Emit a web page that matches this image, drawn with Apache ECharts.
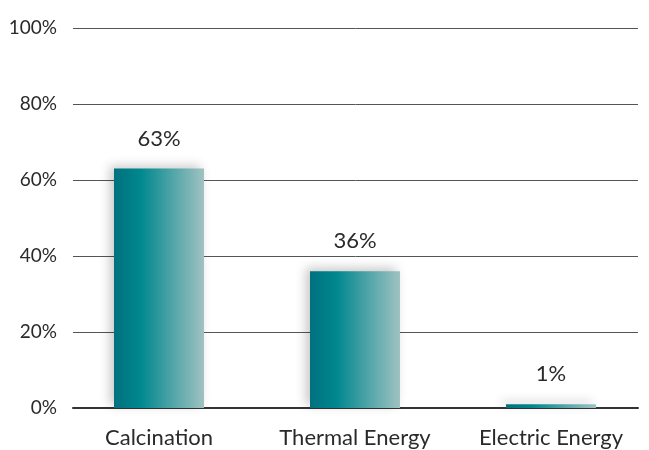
<!DOCTYPE html>
<html>
<head>
<meta charset="utf-8">
<script src="https://cdn.jsdelivr.net/npm/echarts@6/dist/echarts.min.js"></script>
<style>
  html, body { margin: 0; padding: 0; background: #fff; }
  #chart { width: 649px; height: 450px; }
</style>
</head>
<body>
<div id="chart"></div>
<script>
// Share of CO2 emissions by source
const categories = ['Calcination', 'Thermal Energy', 'Electric Energy'];
const shares = [63, 36, 1];
const yTicks = [0, 20, 40, 60, 80, 100];

const font = 'Lato, "Open Sans", sans-serif';
const chart = echarts.init(document.getElementById('chart'));

const barGradient = new echarts.graphic.LinearGradient(0, 0, 1, 0, [
  { offset: 0, color: '#00717e' },
  { offset: 0.3, color: '#00888f' },
  { offset: 1, color: '#a0c2c1' }
]);

chart.setOption({
  animation: false,
  grid: [
    { left: 73, right: 11, top: 28, bottom: 42 },
    { left: 61, right: -7, top: 28, bottom: 42 }
  ],
  xAxis: [
    {
      gridIndex: 0, type: 'category', data: categories,
      axisLine: { lineStyle: { color: '#333', width: 2 } },
      axisTick: { show: false }, axisLabel: { show: false }
    },
    {
      gridIndex: 1, type: 'category', data: categories,
      axisLine: { show: false }, axisTick: { show: false },
      axisLabel: {
        interval: 0, hideOverlap: false,
        color: '#2a2a2a', fontSize: 22, fontFamily: font, margin: 19
      }
    }
  ],
  yAxis: [
    {
      gridIndex: 0, type: 'value', min: 0, max: 100, interval: 20,
      axisLine: { show: false }, axisTick: { show: false },
      splitLine: { lineStyle: { color: '#555', width: 1 } },
      axisLabel: {
        color: '#2a2a2a', fontSize: 19, fontFamily: font, margin: 16,
        formatter: v => yTicks.includes(v) ? v + '%' : ''
      }
    },
    {
      gridIndex: 1, type: 'value', min: 0, max: 100, interval: 20,
      show: false
    }
  ],
  series: [{
    type: 'bar',
    xAxisIndex: 1, yAxisIndex: 1,
    data: shares,
    barWidth: 90,
    itemStyle: {
      color: barGradient,
      shadowColor: 'rgba(0,0,0,0.22)',
      shadowBlur: 10,
      shadowOffsetX: -4,
      shadowOffsetY: -3
    },
    label: {
      show: true, position: 'top', distance: 19,
      formatter: p => p.value + '%',
      color: '#2a2a2a', fontSize: 22, fontFamily: font
    }
  }]
});
</script>
</body>
</html>
